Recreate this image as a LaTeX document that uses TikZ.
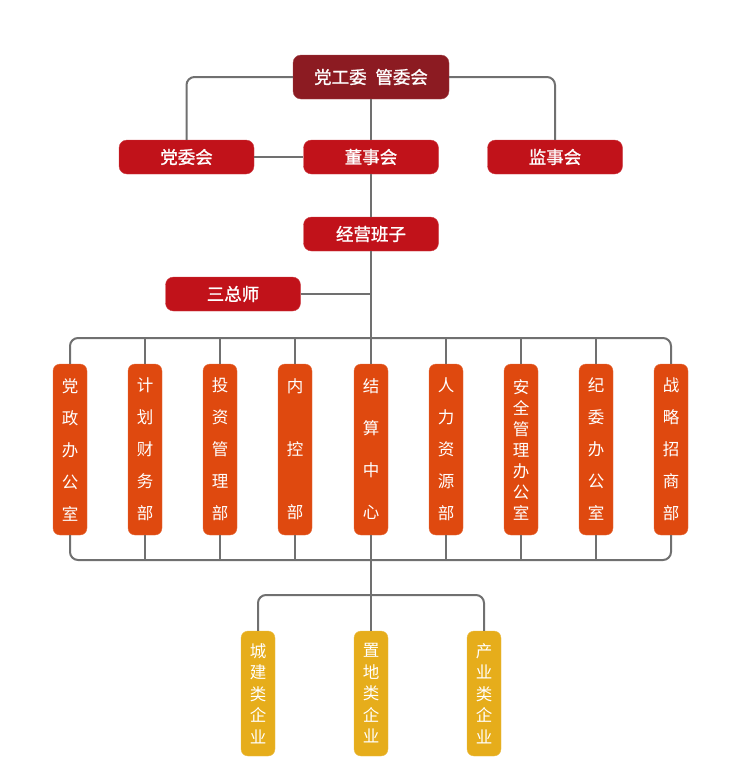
\documentclass[tikz,border=0pt]{standalone}
\usepackage{fontspec}
\newfontfamily\cjk{Noto Sans CJK SC}
\newfontfamily\cjkbold[FakeBold=1.2]{Noto Sans CJK SC}
\usetikzlibrary{positioning, calc}

\definecolor{topred}{HTML}{8C1B22}
\definecolor{boardred}{HTML}{C1121A}
\definecolor{deptorange}{HTML}{DF490F}
\definecolor{firmyellow}{HTML}{E6AD1B}
\definecolor{linegray}{HTML}{707070}

\tikzset{
	hbox/.style={rectangle, rounded corners=8pt, fill=boardred, draw=boardred!80!white, text=white,
		minimum width=135pt, minimum height=34pt, inner sep=0pt, font=\cjkbold\fontsize{17.5}{17.5}\selectfont},
	vbox/.style={rectangle, rounded corners=7pt, fill=deptorange, draw=deptorange!80!white, text=white,
		minimum width=34pt, minimum height=171pt, inner sep=0pt, align=center},
	ybox/.style={vbox, fill=firmyellow, draw=firmyellow!80!white, minimum height=125pt},
	vsp/.style={font=\cjk\fontsize{16.5}{#1}\selectfont},
	conn/.style={draw=linegray, line width=2pt, rounded corners=8pt},
}

\begin{document}
\begin{tikzpicture}[x=1pt, y=-1pt]
	\useasboundingbox (0,0) rectangle (750,772);

	\node[hbox, fill=topred, draw=topred!80!white, minimum width=156pt, minimum height=44pt] (gwh) at (371, 77) {党工委\hspace{0.5em}管委会};
	\node[hbox] (dwh) at (186.5, 157) {党委会};
	\node[hbox] (dsh) at (371, 157) {董事会};
	\node[hbox] (jsh) at (555, 157) {监事会};
	\node[hbox] (jybz) at (371, 234) {经营班子};
	\node[hbox] (szs) at (233, 294) {三总师};

	\node[vbox, vsp=32] (b1) at (70, 449.5) {党\\政\\办\\公\\室};
	\node[vbox, vsp=32] (b2) at (145, 449.5) {计\\划\\财\\务\\部};
	\node[vbox, vsp=32] (b3) at (220, 449.5) {投\\资\\管\\理\\部};
	\node[vbox, vsp=63] (b4) at (295, 449.5) {内\\控\\部};
	\node[vbox, vsp=42] (b5) at (371, 449.5) {结\\算\\中\\心};
	\node[vbox, vsp=32] (b6) at (446, 449.5) {人\\力\\资\\源\\部};
	\node[vbox, vsp=21] (b7) at (521, 449.5) {安\\全\\管\\理\\办\\公\\室};
	\node[vbox, vsp=32] (b8) at (596, 449.5) {纪\\委\\办\\公\\室};
	\node[vbox, vsp=32] (b9) at (671, 449.5) {战\\略\\招\\商\\部};

	\node[ybox, vsp=21.5] (y1) at (258, 693.5) {城\\建\\类\\企\\业};
	\node[ybox, vsp=21.5] (y2) at (371, 693.5) {置\\地\\类\\企\\业};
	\node[ybox, vsp=21.5] (y3) at (484, 693.5) {产\\业\\类\\企\\业};

	\coordinate (bt) at (371, 338);
	\coordinate (bb) at (371, 560);
	\coordinate (yb) at (371, 595);

	\path[conn] (gwh) -| (dwh);
	\path[conn] (gwh) -| (jsh);
	\path[conn] (gwh) -- (dsh);
	\path[conn] (dwh) -- (dsh);
	\path[conn] (dsh) -- (jybz);
	\path[conn] (jybz) -- (bt);
	\path[conn] (szs) -- (szs -| jybz);
	\path[conn] (b1) |- (bt) -| (b9);
	\path[conn] (b1) |- (bb) -| (b9);
	\foreach \b in {b2, b3, b4, b5, b6, b7, b8} {
		\path[conn] (\b) -- (\b |- bt);
		\path[conn] (\b) -- (\b |- bb);
	}
	\path[conn] (bb) -- (y2);
	\path[conn] (y1) |- (yb) -| (y3);
\end{tikzpicture}
\end{document}
